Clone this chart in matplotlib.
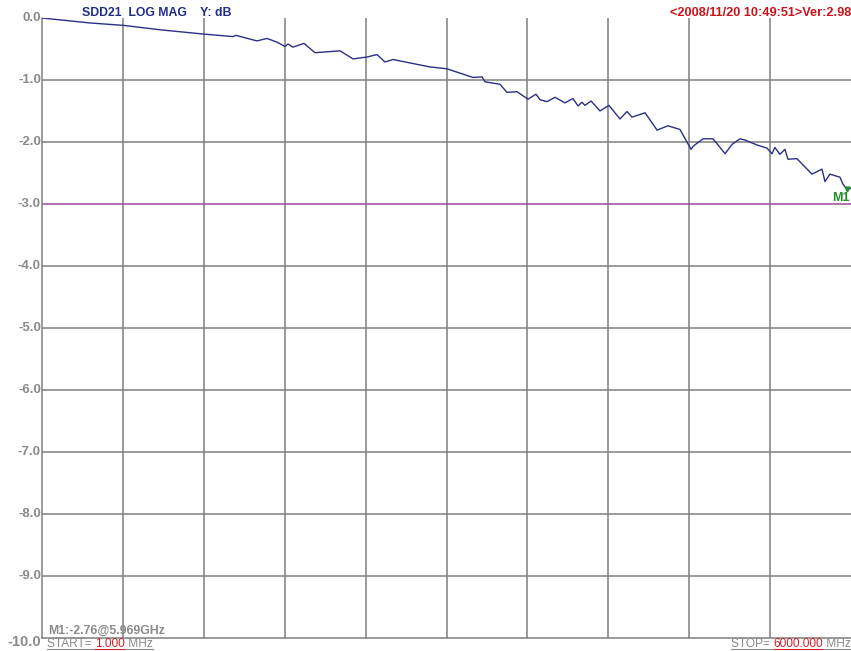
import numpy as np
import matplotlib.pyplot as plt
from matplotlib.lines import Line2D

plt.rcParams['font.family'] = ['Liberation Sans', 'DejaVu Sans']

# SDD21 trace, frequency in MHz and magnitude in dB
freq_mhz = [1, 134, 357, 609, 876, 1202, 1417, 1439, 1595, 1669, 1744, 1803, 1825,
            1862, 1944, 2025, 2211, 2307, 2411, 2485, 2544, 2604, 2878, 3004, 3197,
            3264, 3286, 3397, 3449, 3523, 3605, 3664, 3694, 3746, 3805, 3879, 3938,
            3976, 4005, 4027, 4072, 4139, 4205, 4287, 4339, 4376, 4473, 4562, 4643,
            4732, 4814, 4829, 4903, 4977, 5066, 5118, 5177, 5214, 5303, 5377, 5414,
            5436, 5473, 5510, 5533, 5599, 5710, 5785, 5807, 5844, 5918, 5940, 5969,
            6000]
sdd21_db = [-0.00, -0.03, -0.08, -0.12, -0.19, -0.26, -0.30, -0.28, -0.37, -0.33,
            -0.39, -0.46, -0.42, -0.47, -0.41, -0.56, -0.53, -0.66, -0.63, -0.59,
            -0.71, -0.67, -0.79, -0.82, -0.96, -0.95, -1.03, -1.07, -1.20, -1.19,
            -1.31, -1.23, -1.32, -1.35, -1.28, -1.37, -1.30, -1.42, -1.36, -1.41,
            -1.34, -1.50, -1.41, -1.63, -1.51, -1.60, -1.53, -1.81, -1.74, -1.80,
            -2.12, -2.07, -1.95, -1.95, -2.19, -2.04, -1.95, -1.97, -2.05, -2.10,
            -2.19, -2.09, -2.20, -2.12, -2.28, -2.27, -2.52, -2.44, -2.64, -2.52,
            -2.57, -2.68, -2.76, -2.75]

y_ticks = [0.0, -1.0, -2.0, -3.0, -4.0, -5.0, -6.0, -7.0, -8.0, -9.0, -10.0]
start_mhz = 1.0
stop_mhz = 6000.0
limit_db = -3.0
m1_freq = 5969
m1_db = -2.76

W, H = 851, 651
fig = plt.figure(figsize=(W / 100, H / 100), dpi=100)
fig.patch.set_facecolor('white')

ax_left, ax_top, ax_right, ax_bot = 42, 18, 851, 637.5
ax = fig.add_axes([ax_left / W, 1 - ax_bot / H, (ax_right - ax_left) / W, (ax_bot - ax_top) / H])
ax.set_xlim(start_mhz, stop_mhz)
ax.set_ylim(-10, 0)

grid_col = '#7e7e7e'
for f in np.linspace(start_mhz, stop_mhz, 11)[1:-1]:
    ax.axvline(f, color=grid_col, lw=1.1, zorder=1)
for v in y_ticks[1:-1]:
    if v != limit_db:
        ax.axhline(v, color=grid_col, lw=1.1, zorder=1)
ax.axhline(limit_db, color='#a0489c', lw=1.1, zorder=2)

ax.plot(freq_mhz, sdd21_db, color='#2b2f86', lw=1.0, zorder=3)
ax.plot([m1_freq], [m1_db], marker='v', ms=3.5, color='#1f8f2a', zorder=4)

for s in ['top', 'right']:
    ax.spines[s].set_visible(False)
for s in ['left', 'bottom']:
    ax.spines[s].set_color(grid_col)
    ax.spines[s].set_linewidth(1.1)
ax.set_xticks([])
ax.set_yticks([])

# y labels drawn by hand so the last one can sit a bit lower
for v in y_ticks:
    ypx = ax_top + (-v) * (ax_bot - ax_top) / 10
    if v == -10.0:
        fig.text(41 / W, 1 - (ypx + 5) / H, '%.1f' % v, ha='right', va='center',
                 fontsize=10.5, color='#8a8a8a', fontweight='bold')
    else:
        fig.text(41 / W, 1 - ypx / H, '%.1f' % v, ha='right', va='center',
                 fontsize=9.5, color='#8a8a8a', fontweight='bold')

fig.text(82 / W, 1 - 13 / H, 'SDD21  LOG MAG    Y: dB', ha='left', va='center',
         fontsize=8.8, color='#1f2d8a', fontweight='bold')
fig.text(851 / W, 1 - 13 / H, '<2008/11/20 10:49:51>Ver:2.98', ha='right', va='center',
         fontsize=9.2, color='#c8141c', fontweight='bold')
fig.text(850 / W, 1 - 198 / H, 'M1', ha='right', va='center',
         fontsize=9, color='#1f8f2a', fontweight='bold')
fig.text(48 / W, 1 - 631 / H, 'M1:%.2f@%.3fGHz' % (m1_db, m1_freq / 1000), ha='left',
         va='center', fontsize=8.8, color='#8a8a8a', fontweight='bold')

renderer = fig.canvas.get_renderer()


def underlined(parts, x0, ypx, align='left'):
    # write text pieces side by side, each with its own underline
    texts = [fig.text(0, 1 - ypx / H, s, ha='left', va='baseline', fontsize=8.6, color=c)
             for s, c in parts]
    widths = [t.get_window_extent(renderer).width for t in texts]
    x = x0 if align == 'left' else x0 - sum(widths)
    for t, w, (s, c) in zip(texts, widths, parts):
        t.set_x(x / W)
        fig.add_artist(Line2D([x / W, (x + w) / W], [1 - (ypx + 1.5) / H] * 2,
                              transform=fig.transFigure, color=c, lw=0.8))
        x += w


underlined([('START= ', '#8a8a8a'), ('%.3f' % start_mhz, '#d0202a'), (' MHz', '#8a8a8a')],
           47, 647)
underlined([('STOP= ', '#8a8a8a'), ('%.3f' % stop_mhz, '#d0202a'), (' MHz', '#8a8a8a')],
           851, 647, align='right')

fig.savefig('out.png', dpi=100)
